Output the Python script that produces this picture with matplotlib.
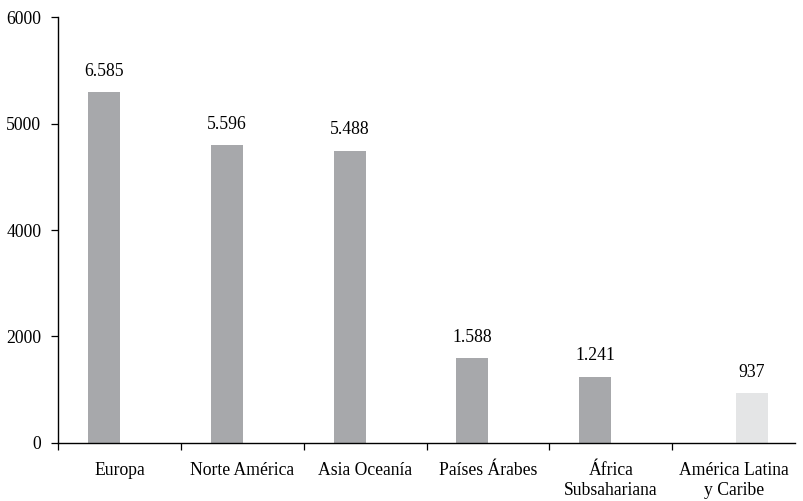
import numpy as np
import matplotlib
matplotlib.use("Agg")
from matplotlib import pyplot as plt

# datos del grafico
regiones = ['Europa', 'Norte América', 'Asia Oceanía', 'Países Árabes',
            'África\nSubsahariana', 'América Latina\ny Caribe']
valores_oscuros = [6585, 5596, 5488, 1588, 1241, np.nan]
valores_claros = [np.nan, np.nan, np.nan, np.nan, np.nan, 937]
etiquetas = ['6.585', '5.596', '5.488', '1.588', '1.241', '937']
# etiquetas del eje y tal como aparecen en la figura original
yticks = [0, 2000, 4000, 6000, 8000]
ytick_labels = ['0', '2000', '4000', '5000', '6000']

plt.rcParams['font.family'] = ['Liberation Serif', 'DejaVu Serif']
fs = 12.7

fig = plt.figure(figsize=(8.04, 5.01), dpi=100)
ax = fig.add_axes([0.0721, 0.1158, 0.917, 0.8502])

x = np.arange(len(regiones))
w = 0.26
ax.bar(x - 0.127, valores_oscuros, width=w, color='#a7a8ab')
ax.bar(x + 0.145, valores_claros, width=w, color='#e4e5e6')

for i, txt in enumerate(etiquetas):
    if not np.isnan(valores_oscuros[i]):
        xi, vi = x[i] - 0.127, valores_oscuros[i]
    else:
        xi, vi = x[i] + 0.145, valores_claros[i]
    ax.annotate(txt, (xi, vi), xytext=(0, 9), textcoords='offset points',
                ha='center', va='bottom', fontsize=fs)

ax.set_xlim(-0.5, len(regiones) - 0.5)
ax.set_ylim(0, 8000)
ax.set_yticks(yticks)
ax.set_yticklabels(ytick_labels, fontsize=fs)

ax.set_xticks(x)
ax.set_xticklabels(regiones, fontsize=fs, linespacing=1.2)
ax.set_xticks(np.arange(len(regiones)) - 0.5, minor=True)
ax.tick_params(axis='x', which='major', length=0, pad=14)
ax.tick_params(axis='x', which='minor', length=5, width=0.9, direction='out')
ax.tick_params(axis='y', length=5, width=0.9, pad=7)

for s in ['top', 'right']:
    ax.spines[s].set_visible(False)
for s in ['left', 'bottom']:
    ax.spines[s].set_linewidth(1.0)

fig.savefig('out.png', dpi=100)
